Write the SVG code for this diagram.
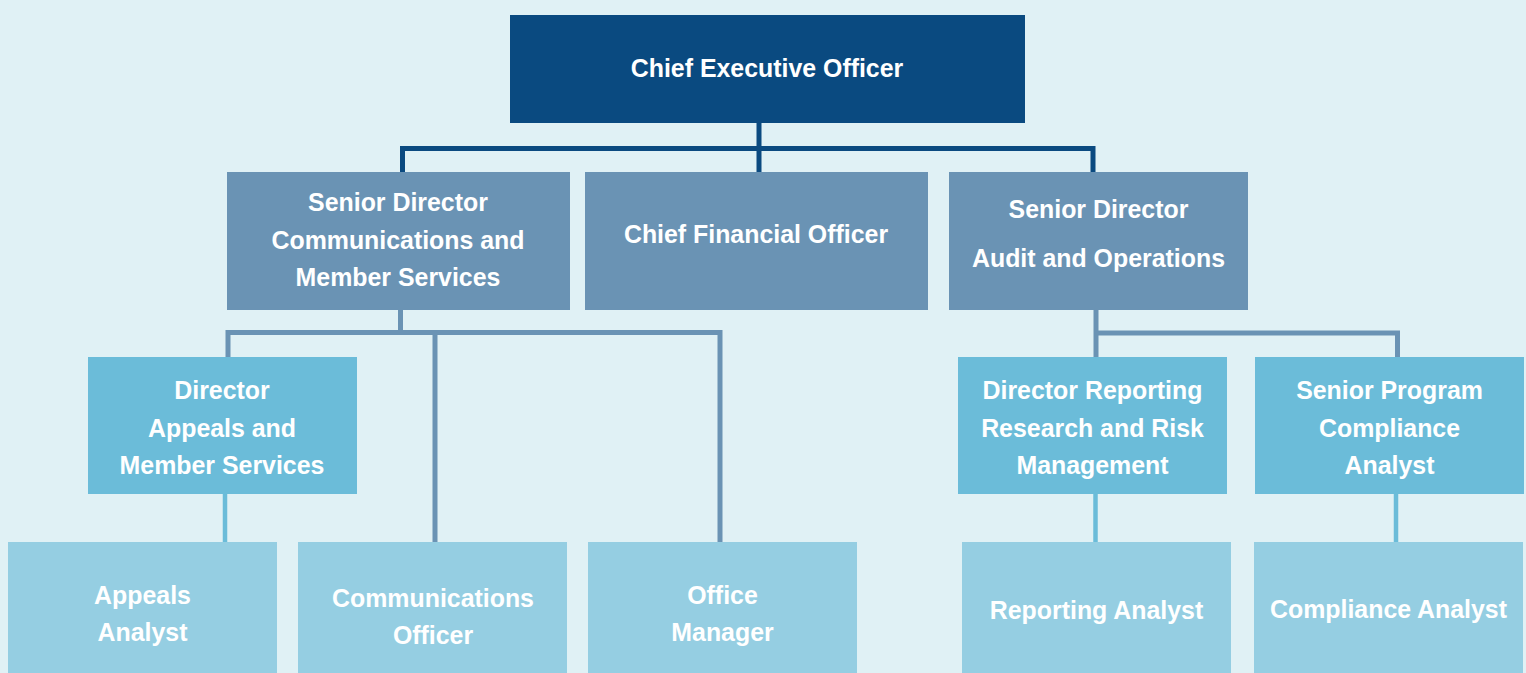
<svg xmlns="http://www.w3.org/2000/svg" width="1526" height="673" viewBox="0 0 1526 673">
<style>
.t{font-family:"Liberation Sans",Arial,sans-serif;font-weight:bold;font-size:24.9px;fill:#ffffff;text-anchor:middle}
.l1{fill:#0a4a80}
.l2{fill:#6a93b4}
.l3{fill:#6bbcd9}
.l4{fill:#95cee2}
.c1{stroke:#0a4a80;stroke-width:5;fill:none}
.c2{stroke:#6a93b4;stroke-width:5;fill:none}
.c3{stroke:#6bbcd9;stroke-width:4.5;fill:none}
</style>
<rect width="1526" height="673" fill="#e0f1f5"/>
<g id="connectors">
<path class="c1" d="M759 123V148.5M402.5 172V148.5H1093V172M759 148.5V172"/>
<path class="c2" d="M400.5 310V332.5M228 357V332.5H720V542M435 332.5V542"/>
<path class="c2" d="M1096 310V357M1096 333H1397.5V357"/>
<path class="c3" d="M225 494V542"/>
<path class="c3" d="M1095.5 494V542"/>
<path class="c3" d="M1396 494V542"/>
</g>
<g id="ceo"><rect class="l1" x="510" y="15" width="515" height="108"/><text class="t" x="767" y="77">Chief Executive Officer</text></g>
<g id="sd-comm"><rect class="l2" x="227" y="172" width="343" height="138"/><text class="t" x="398" y="211">Senior Director</text><text class="t" x="398" y="248.5">Communications and</text><text class="t" x="398" y="286">Member Services</text></g>
<g id="cfo"><rect class="l2" x="585" y="172" width="343" height="138"/><text class="t" x="756" y="243">Chief Financial Officer</text></g>
<g id="sd-audit"><rect class="l2" x="949" y="172" width="299" height="138"/><text class="t" x="1098.5" y="217.5">Senior Director</text><text class="t" x="1098.5" y="266.5">Audit and Operations</text></g>
<g id="dir-appeals"><rect class="l3" x="88" y="357" width="269" height="137"/><text class="t" x="222" y="399">Director</text><text class="t" x="222" y="437">Appeals and</text><text class="t" x="222" y="474">Member Services</text></g>
<g id="dir-reporting"><rect class="l3" x="958" y="357" width="269" height="137"/><text class="t" x="1092.5" y="399">Director Reporting</text><text class="t" x="1092.5" y="437">Research and Risk</text><text class="t" x="1092.5" y="474">Management</text></g>
<g id="sr-program"><rect class="l3" x="1255" y="357" width="269" height="137"/><text class="t" x="1389.5" y="399">Senior Program</text><text class="t" x="1389.5" y="437">Compliance</text><text class="t" x="1389.5" y="474">Analyst</text></g>
<g id="appeals-analyst"><rect class="l4" x="8" y="542" width="269" height="131"/><text class="t" x="142.5" y="603.5">Appeals</text><text class="t" x="142.5" y="641">Analyst</text></g>
<g id="comm-officer"><rect class="l4" x="298" y="542" width="269" height="131"/><text class="t" x="433" y="607">Communications</text><text class="t" x="433" y="644">Officer</text></g>
<g id="office-manager"><rect class="l4" x="588" y="542" width="269" height="131"/><text class="t" x="722.5" y="603.5">Office</text><text class="t" x="722.5" y="641">Manager</text></g>
<g id="reporting-analyst"><rect class="l4" x="962" y="542" width="269" height="131"/><text class="t" x="1096.5" y="618.5">Reporting Analyst</text></g>
<g id="compliance-analyst"><rect class="l4" x="1254" y="542" width="269" height="131"/><text class="t" x="1388.5" y="618">Compliance Analyst</text></g>
</svg>
